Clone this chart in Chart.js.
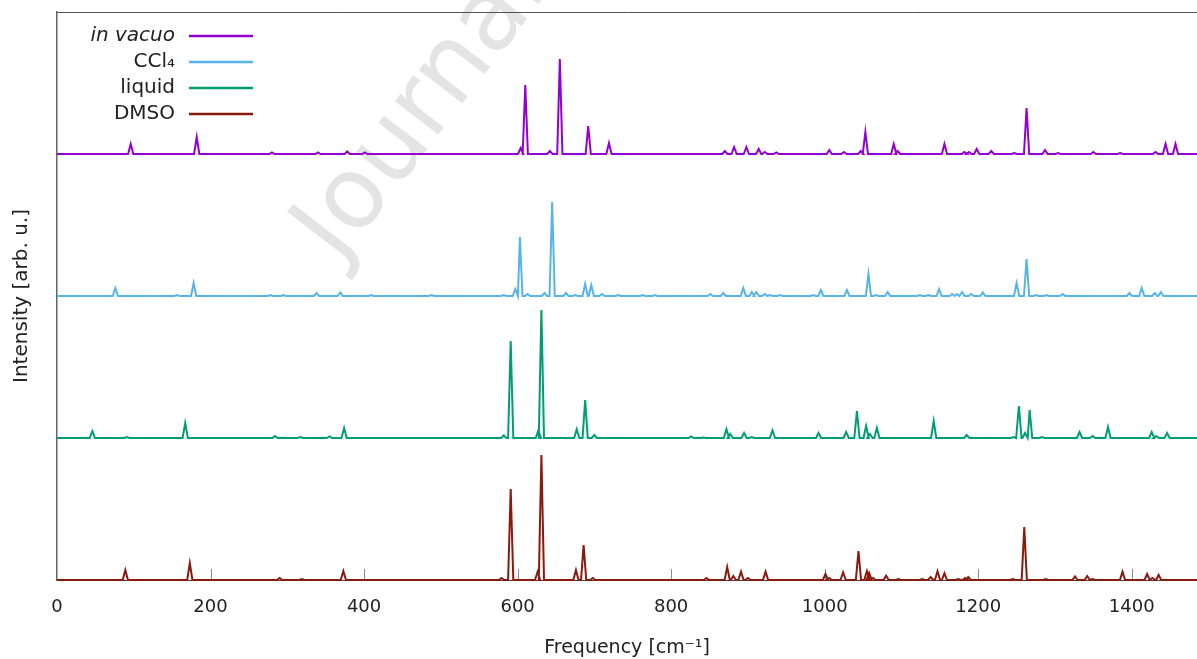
<!DOCTYPE html>
<html><head><meta charset="utf-8">
<script src="https://cdn.jsdelivr.net/npm/chart.js@4.4.0/dist/chart.umd.min.js"></script>
<style>html,body{margin:0;padding:0;background:#fff;overflow:hidden}#wrap{width:1197px;height:659px;position:relative}</style>
</head><body><div id="wrap"><canvas id="c"></canvas></div>
<script>
// ---- data ----
const seriesNames = ['in vacuo', 'CCl\u2084', 'liquid', 'DMSO'];
const xTickValues = [0, 200, 400, 600, 800, 1000, 1200, 1400];
const xTickLabels = ['0', '200', '400', '600', '800', '1000', '1200', '1400'];
const xMin = 0, xMax = 1485;
const yMax = 568;                 // arb. u.
const seriesOffsets = [426, 284, 142, 0];

const vacuoPos = [96,182,280,340,378,401,604,610,642,655,692,719,870,882,898,914,922,937,1006,1025,1047,1053,1090,1095,1156,1182,1188,1198,1217,1247,1263,1287,1304,1350,1385,1431,1444,1457];
const vacuoInt = [10,17,1.5,1.5,2.5,1.5,6,69,3,95,28,11,3,7,7,5,2,1.5,4,2,3,22,10,3,10,2,2,5,3,1,46,4,1,2,1,2,10,10];

const ccl4Pos = [76,156,178,278,295,338,369,409,488,582,597,603,613,635,645,663,675,688,696,710,731,763,779,851,868,894,905,911,922,929,942,985,995,1029,1057,1067,1082,1124,1135,1149,1166,1172,1179,1191,1206,1250,1263,1275,1289,1310,1397,1413,1430,1438];
const ccl4Int = [8,1,13,1,1,3,3.5,1,1,1,7,59,2,3,94,3,1,12,11,2,1,1,1,2,3,8,4,4,2,1,1,1,6,6,22,1,4,1,1,7,2,2,4,2,3.5,13,37,1,1,2,3,8,3,4];

const liquidPos = [46,91,167,284,317,355,374,582,591,627,631,677,688,700,826,842,872,877,895,905,932,992,1028,1042,1054,1059,1068,1142,1185,1246,1253,1261,1267,1283,1332,1349,1369,1426,1432,1446];
const liquidInt = [7,1,15,2,1,1.5,10,2.5,97,7.5,128,8.7,38,3,1.5,0.5,9,4,5,1,7.7,5,6,27,12,4,10,17,3,1,32,5,28,1,6,2,11,6,2,5];

const dmsoPos = [89,173,290,319,373,579,591,626,631,676,686,698,846,873,881,891,900,923,1001,1006,1024,1044,1055,1058,1063,1080,1096,1127,1138,1147,1156,1174,1183,1187,1245,1260,1288,1326,1342,1349,1388,1420,1427,1435];
const dmsoInt = [10,17,2,1,9,2,91,8,125,10,35,2,2,13,4,8.4,2,8.4,6,2,7.7,29,9,7,2,4.3,1,1,3,8.7,6.7,1,2,3,1,53,1,3.5,4,1,8.3,6,2,5];

const seriesColors = ['#9400d3', '#56b4e9', '#009e73', '#8b1a0e'];
const HW = 3.4; // half width of a drawn peak, cm^-1

function buildLine(pos, inten, base) {
  const pts = [{x: xMin, y: base}];
  pos.forEach((p, i) => {
    pts.push({x: p - HW, y: base}, {x: p, y: base + inten[i]}, {x: p + HW, y: base});
  });
  pts.push({x: xMax, y: base});
  return pts;
}

const allPos = [vacuoPos, ccl4Pos, liquidPos, dmsoPos];
const allInt = [vacuoInt, ccl4Int, liquidInt, dmsoInt];

const datasets = seriesNames.map((n, i) => ({
  label: n,
  data: buildLine(allPos[i], allInt[i], seriesOffsets[i]),
  borderColor: seriesColors[i],
  borderWidth: 2,
  pointRadius: 0,
  tension: 0,
  fill: false,
  clip: false
}));

const FONT = "'DejaVu Sans', Verdana, sans-serif";

const decor = {
  id: 'decor',
  beforeDraw(chart) {
    const ctx = chart.ctx;
    ctx.save();
    ctx.translate(339, 264);
    ctx.rotate(-52.5 * Math.PI / 180);
    ctx.font = "100px " + FONT;
    ctx.fillStyle = '#e4e4e4';
    ctx.textBaseline = 'alphabetic';
    ctx.fillText('Journal Pre-proof', 0, 0);
    ctx.restore();
  },
  beforeDatasetsDraw(chart) {
    const ctx = chart.ctx, a = chart.chartArea, xs = chart.scales.x;
    ctx.save();
    ctx.strokeStyle = '#8a8a8a';
    ctx.lineWidth = 1;
    xTickValues.forEach(v => {
      if (v === 0) return;
      const px = Math.round(xs.getPixelForValue(v)) + 0.5;
      ctx.beginPath(); ctx.moveTo(px, a.bottom); ctx.lineTo(px, a.bottom - 11); ctx.stroke();
    });
    ctx.strokeStyle = '#555';
    ctx.beginPath(); ctx.moveTo(a.left, a.top + 0.5); ctx.lineTo(a.right + 5, a.top + 0.5); ctx.stroke();
    ctx.restore();
  },
  afterDraw(chart) {
    const ctx = chart.ctx;
    ctx.save();
    const rows = [36, 62, 88, 114];
    seriesNames.forEach((n, i) => {
      ctx.font = (i === 0 ? 'italic ' : '') + '20px ' + FONT;
      ctx.fillStyle = '#222';
      ctx.textAlign = 'right';
      ctx.textBaseline = 'middle';
      ctx.fillText(n, 175, rows[i]);
      ctx.strokeStyle = seriesColors[i];
      ctx.lineWidth = 2.5;
      ctx.beginPath(); ctx.moveTo(189, rows[i]); ctx.lineTo(253, rows[i]); ctx.stroke();
    });
    ctx.restore();
  }
};

new Chart(document.getElementById('c'), {
  type: 'line',
  data: { datasets },
  options: {
    responsive: true,
    maintainAspectRatio: false,
    devicePixelRatio: 1,
    animation: false,
    events: [],
    layout: { padding: { top: 12, right: 0, bottom: 0, left: 0 } },
    plugins: { legend: { display: false }, tooltip: { enabled: false } },
    scales: {
      x: {
        type: 'linear', min: xMin, max: xMax,
        afterBuildTicks: s => { s.ticks = xTickValues.map(v => ({value: v})); },
        afterFit: s => { s.height = 79; },
        grid: { display: false, drawTicks: false },
        border: { display: true, color: '#444', width: 1 },
        ticks: {
          padding: 17, color: '#222', font: { family: FONT, size: 18 }, maxRotation: 0,
          callback: (v) => { const k = xTickValues.indexOf(v); return k >= 0 ? xTickLabels[k] : ''; }
        },
        title: { display: true, text: 'Frequency [cm\u207B\u00B9]', color: '#222', font: { family: FONT, size: 19 }, padding: { top: 1, bottom: 0 } }
      },
      y: {
        min: 0, max: yMax,
        afterFit: s => { s.width = 57; },
        grid: { display: false, drawTicks: false },
        border: { display: true, color: '#666', width: 1.5 },
        ticks: { display: false },
        title: { display: true, text: 'Intensity [arb. u.]', color: '#222', font: { family: FONT, size: 20 }, padding: { top: 10, bottom: 0 } }
      }
    }
  },
  plugins: [decor]
});
</script>
</body></html>
